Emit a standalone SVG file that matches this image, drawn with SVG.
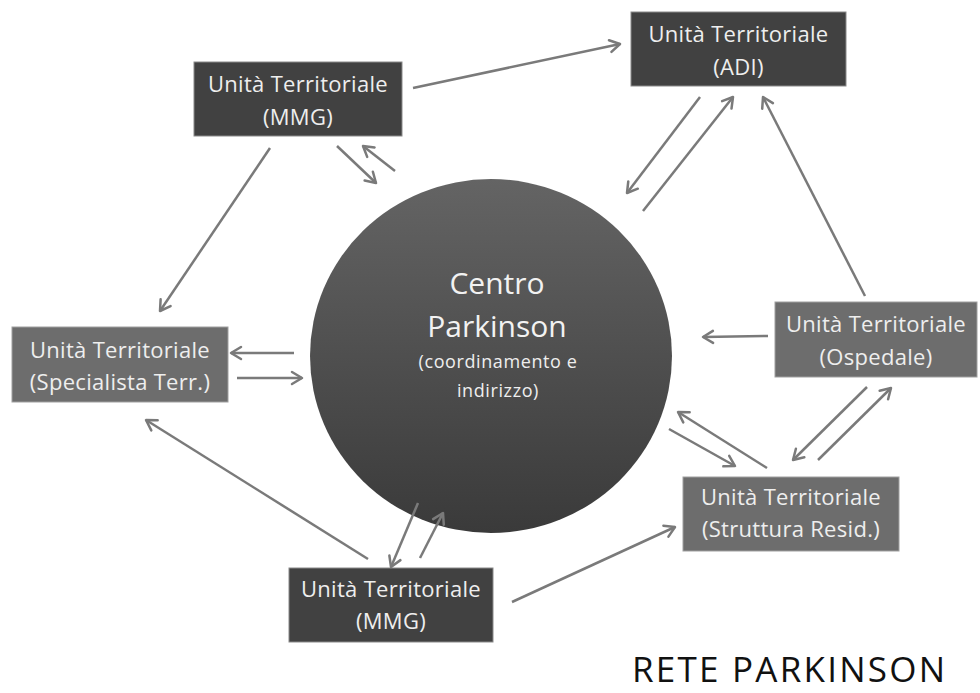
<svg xmlns="http://www.w3.org/2000/svg" width="980" height="693" viewBox="0 0 980 693">
<style>
.dark{fill:#414141;stroke:#8a8a8a;stroke-width:1}
.light{fill:#6d6d6d;stroke:#a0a0a0;stroke-width:1}
.lbl{font-family:"Open Sans","Liberation Sans",sans-serif;font-size:22px;letter-spacing:0.3px;fill:#eeeeee;text-anchor:middle}
.big{font-family:"Open Sans","Liberation Sans",sans-serif;font-size:30px;fill:#f2f2f2;text-anchor:middle}
.small{font-family:"Open Sans","Liberation Sans",sans-serif;font-size:18px;letter-spacing:0.6px;fill:#eeeeee;text-anchor:middle}
.title{font-family:"Open Sans","Liberation Sans",sans-serif;font-size:35px;fill:#111111}
#connectors line{stroke:#7a7a7a;stroke-width:2.5;marker-end:url(#ah)}
</style>
<defs>
<marker id="ah" markerUnits="userSpaceOnUse" markerWidth="16" markerHeight="16" refX="13" refY="8" orient="auto">
<path d="M3,2 L13,8 L3,14" fill="none" stroke="#7a7a7a" stroke-width="2.5" stroke-linecap="round" stroke-linejoin="round"/>
</marker>
<linearGradient id="cg" x1="0" y1="0" x2="0" y2="1">
<stop offset="0" stop-color="#646464"/>
<stop offset="1" stop-color="#3a3a3a"/>
</linearGradient>
</defs>
<rect width="980" height="693" fill="#ffffff"/>
<g id="centro">
<ellipse cx="491" cy="356" rx="181" ry="177" fill="url(#cg)"/>
<text class="big" x="497" y="294">Centro</text>
<text class="big" x="497" y="337">Parkinson</text>
<text class="small" x="498" y="368">(coordinamento e</text>
<text class="small" x="498" y="397">indirizzo)</text>
</g>
<g id="mmg-top">
<rect class="dark" x="194" y="62" width="208" height="74"/>
<text class="lbl" x="298" y="92">Unità Territoriale</text>
<text class="lbl" x="298" y="124.5">(MMG)</text>
</g>
<g id="adi">
<rect class="dark" x="631" y="12" width="215" height="74"/>
<text class="lbl" x="738.5" y="42">Unità Territoriale</text>
<text class="lbl" x="738.5" y="75">(ADI)</text>
</g>
<g id="specialista">
<rect class="light" x="12" y="327" width="216" height="75"/>
<text class="lbl" x="120" y="357.5">Unità Territoriale</text>
<text class="lbl" x="120" y="389.5">(Specialista Terr.)</text>
</g>
<g id="ospedale">
<rect class="light" x="775" y="302" width="202" height="75"/>
<text class="lbl" x="876" y="331.5">Unità Territoriale</text>
<text class="lbl" x="876" y="364.5">(Ospedale)</text>
</g>
<g id="struttura">
<rect class="light" x="683" y="477" width="216" height="74"/>
<text class="lbl" x="791" y="504.5">Unità Territoriale</text>
<text class="lbl" x="791" y="536.5">(Struttura Resid.)</text>
</g>
<g id="mmg-bottom">
<rect class="dark" x="289" y="568" width="204" height="74"/>
<text class="lbl" x="391" y="596.5">Unità Territoriale</text>
<text class="lbl" x="391" y="628.5">(MMG)</text>
</g>
<g id="connectors">
<line x1="413" y1="88" x2="620" y2="44"/>
<line x1="270" y1="148" x2="160" y2="311"/>
<line x1="337" y1="146" x2="376" y2="183"/>
<line x1="395" y1="171" x2="363" y2="146"/>
<line x1="700" y1="97" x2="627" y2="193"/>
<line x1="643" y1="211" x2="733" y2="97"/>
<line x1="865" y1="296" x2="763" y2="97"/>
<line x1="768" y1="336" x2="703" y2="337"/>
<line x1="294" y1="353" x2="231" y2="353"/>
<line x1="237" y1="378" x2="302" y2="378"/>
<line x1="867" y1="387" x2="793" y2="460"/>
<line x1="818" y1="460" x2="891" y2="388"/>
<line x1="767" y1="468" x2="678" y2="412"/>
<line x1="669" y1="429" x2="735" y2="466"/>
<line x1="368" y1="559" x2="146" y2="420"/>
<line x1="418" y1="503" x2="391" y2="567"/>
<line x1="420" y1="558" x2="443" y2="513"/>
<line x1="512" y1="602" x2="675" y2="527"/>
</g>
<text class="title" x="632" y="682" textLength="313" lengthAdjust="spacing">RETE PARKINSON</text>
</svg>
